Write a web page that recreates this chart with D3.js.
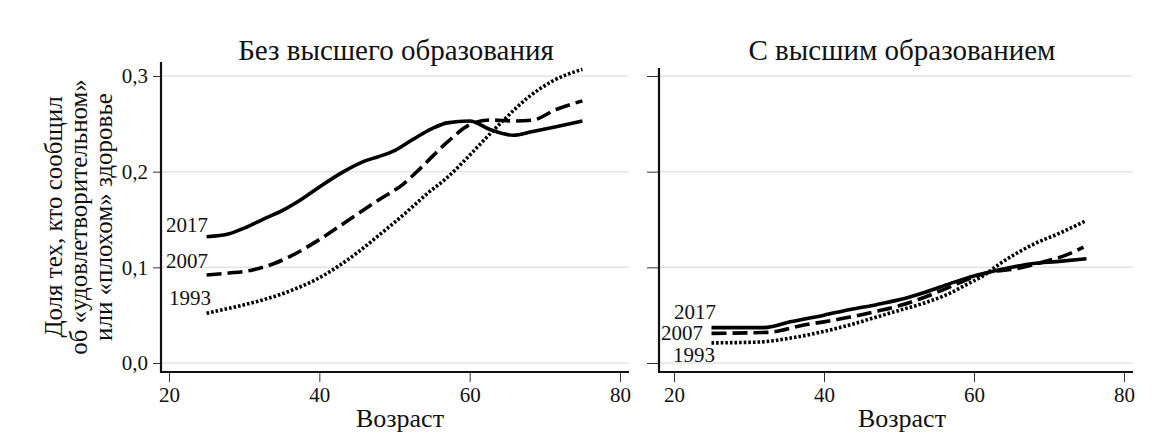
<!DOCTYPE html>
<html>
<head>
<meta charset="utf-8">
<script src="https://cdn.jsdelivr.net/npm/d3@7"></script>
<style>
  body { margin: 0; background: #fff; }
  text { font-family: "Liberation Serif", serif; fill: #111; }
  .grid line { stroke: #e4e4e4; stroke-width: 1.5; }
  .tick line { stroke: #333; }
</style>
</head>
<body>
<svg id="chart" width="1164" height="441"></svg>
<script>
// ages and shares
var ageNo2017 = [25, 28, 30, 33, 35, 37, 40, 43, 46, 48, 50, 52.5, 55, 57, 60, 62.7, 65.8, 68.4, 71.5, 75];
var no2017 = [0.132, 0.135, 0.141, 0.152, 0.159, 0.168, 0.184, 0.199, 0.211, 0.216, 0.222, 0.234, 0.245, 0.251, 0.253, 0.244, 0.238, 0.242, 0.247, 0.253];
var ageNo2007 = [25, 28, 31, 34, 36, 40, 44, 48, 51, 53.5, 56.9, 60, 62.7, 65.8, 68.4, 71.5, 75];
var no2007 = [0.092, 0.094, 0.097, 0.104, 0.111, 0.129, 0.150, 0.171, 0.186, 0.204, 0.230, 0.249, 0.254, 0.253, 0.254, 0.265, 0.274];
var ageNo1993 = [25, 29, 32.5, 36, 39.5, 42.5, 45, 48, 50, 52.5, 54.5, 56.9, 59, 61.3, 64.4, 68, 71.1, 75];
var no1993 = [0.052, 0.059, 0.066, 0.075, 0.087, 0.101, 0.115, 0.134, 0.147, 0.164, 0.178, 0.193, 0.209, 0.228, 0.253, 0.279, 0.295, 0.307];

var ageHi2017 = [25, 32, 35.5, 40, 43.5, 47, 50, 53.5, 56.8, 60, 62.1, 65, 67.9, 71, 75];
var hi2017 = [0.037, 0.037, 0.043, 0.050, 0.056, 0.061, 0.066, 0.074, 0.083, 0.091, 0.095, 0.100, 0.104, 0.106, 0.109];
var ageHi2007 = [25, 32.5, 37.5, 40, 43.5, 47, 50.1, 53.5, 56.8, 60, 62.1, 65.7, 69.2, 72, 74.6];
var hi2007 = [0.031, 0.032, 0.040, 0.043, 0.048, 0.054, 0.060, 0.069, 0.0795, 0.090, 0.095, 0.0986, 0.1055, 0.112, 0.121];
var ageHi1993 = [25, 31.5, 35.5, 40, 43.5, 47, 50, 53.5, 56.8, 59, 61.2, 63.5, 67.9, 71.5, 75];
var hi1993 = [0.021, 0.022, 0.026, 0.033, 0.040, 0.048, 0.055, 0.063, 0.073, 0.082, 0.091, 0.104, 0.124, 0.136, 0.149];

var years = ["2017", "2007", "1993"];
var xTicks = [20, 40, 60, 80];
var yTicks = [0, 0.1, 0.2, 0.3];
var yTickLabels = ["0,0", "0,1", "0,2", "0,3"];

var dashes = {"2017": null, "2007": "15,6", "1993": "2.6,2"};

var panels = [
  {title: "Без высшего образования", left: 161, right: 629, top: 62, x20: 169, x80: 620, titleX: 396, labelX: 400, tickLen: 8, showY: true,
   series: {"2017": [ageNo2017, no2017], "2007": [ageNo2007, no2007], "1993": [ageNo1993, no1993]},
   labels: {"2017": [208, 232], "2007": [208, 268], "1993": [211, 305]}},
  {title: "С высшим образованием", left: 659, right: 1133, top: 68, x20: 674, x80: 1124, titleX: 902, labelX: 902, tickLen: 12, showY: false,
   series: {"2017": [ageHi2017, hi2017], "2007": [ageHi2007, hi2007], "1993": [ageHi1993, hi1993]},
   labels: {"2017": [716, 319], "2007": [703, 340], "1993": [715, 362]}}
];

var svg = d3.select("#chart");
var axisY = 372;

var y = d3.scaleLinear().domain([0, 0.3]).range([363, 76]);

panels.forEach(function(p) {
  var x = d3.scaleLinear().domain([20, 80]).range([p.x20, p.x80]);
  var g = svg.append("g");

  // gridlines
  g.append("g").attr("class", "grid")
    .selectAll("line").data(yTicks).enter().append("line")
    .attr("x1", p.left).attr("x2", p.right)
    .attr("y1", function(d) { return y(d); })
    .attr("y2", function(d) { return y(d); });

  // y axis
  var ya = g.append("g")
    .attr("transform", "translate(" + p.left + ",0)")
    .call(d3.axisLeft(y).tickValues(yTicks).tickSize(p.tickLen).tickPadding(5)
      .tickFormat(function(d, i) { return p.showY ? yTickLabels[i] : ""; }));
  ya.select(".domain").remove();
  ya.selectAll("text").style("font-size", "21px").style("font-family", "Liberation Serif");

  // x axis
  var xa = g.append("g")
    .attr("transform", "translate(0," + axisY + ")")
    .call(d3.axisBottom(x).tickValues(xTicks).tickSize(10).tickPadding(5));
  xa.select(".domain").remove();
  xa.selectAll("text").style("font-size", "21px").style("font-family", "Liberation Serif");

  // axis lines
  g.append("line").attr("x1", p.left).attr("x2", p.left).attr("y1", p.top).attr("y2", axisY + 1)
    .attr("stroke", "#111").attr("stroke-width", 2.2);
  g.append("line").attr("x1", p.left).attr("x2", p.right).attr("y1", axisY).attr("y2", axisY)
    .attr("stroke", "#111").attr("stroke-width", 2.2);

  var line = d3.line()
    .x(function(d) { return x(d[0]); })
    .y(function(d) { return y(d[1]); })
    .curve(d3.curveMonotoneX);

  years.forEach(function(yr) {
    var s = p.series[yr];
    var pts = s[0].map(function(a, i) { return [a, s[1][i]]; });
    g.append("path")
      .datum(pts)
      .attr("d", line)
      .attr("fill", "none")
      .attr("stroke", "#000")
      .attr("stroke-width", 3.6)
      .attr("stroke-dasharray", dashes[yr]);
    g.append("text")
      .attr("x", p.labels[yr][0]).attr("y", p.labels[yr][1])
      .attr("text-anchor", "end")
      .style("font-size", "21px")
      .text(yr);
  });

  g.append("text")
    .attr("x", p.titleX).attr("y", 60)
    .attr("text-anchor", "middle")
    .style("font-size", "29px")
    .text(p.title);

  g.append("text")
    .attr("x", p.labelX).attr("y", 427)
    .attr("text-anchor", "middle")
    .style("font-size", "26px")
    .text("Возраст");
});

// y axis title
var yTitle = ["Доля тех, кто сообщил", "об «удовлетворительном»", "или «плохом» здоровье"];
svg.append("g")
  .attr("transform", "translate(0,217) rotate(-90)")
  .selectAll("text").data(yTitle).enter().append("text")
  .attr("x", 0)
  .attr("y", function(d, i) { return 62 + i * 25; })
  .attr("text-anchor", "middle")
  .style("font-size", "25px")
  .text(function(d) { return d; });
</script>
</body>
</html>
